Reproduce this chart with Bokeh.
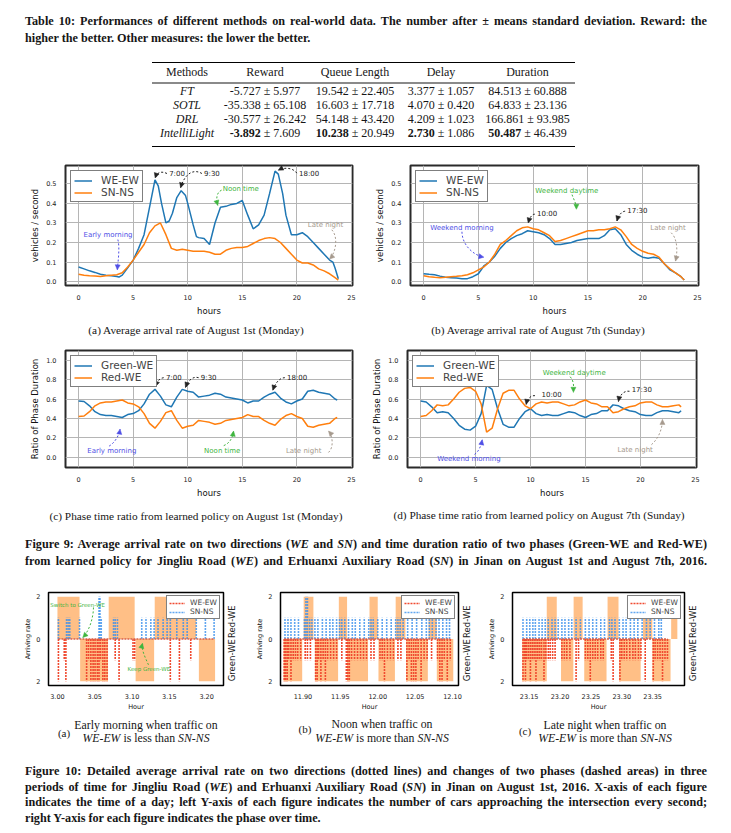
import math
from bokeh.plotting import figure
from bokeh.models import Div, Range1d, FixedTicker, PrintfTickFormatter, LinearAxis, Arrow, NormalHead
from bokeh.layouts import column, row
from bokeh.core.properties import value
from bokeh.embed import file_html
from bokeh.resources import INLINE

# ------------------------------------------------------------------ table data
table_columns = ["Methods", "Reward", "Queue Length", "Delay", "Duration"]
methods = ["FT", "SOTL", "DRL", "IntelliLight"]
reward_mean = [-5.727, -35.338, -30.577, -3.892]
reward_std = [5.977, 65.108, 26.242, 7.609]
queue_mean = [19.542, 16.603, 54.148, 10.238]
queue_std = [22.405, 17.718, 43.420, 20.949]
delay_mean = [3.377, 4.070, 4.209, 2.730]
delay_std = [1.057, 0.420, 1.023, 1.086]
duration_mean = [84.513, 64.833, 166.861, 50.487]
duration_std = [60.888, 23.136, 93.985, 46.439]

# ------------------------------------------------------------------ figure 9 data
hours = [0, 0.5, 1, 1.5, 2, 2.5, 3, 3.5, 4, 4.5, 5, 5.5, 6, 6.5, 7, 7.5, 8, 8.5, 9, 9.5,
         10, 10.5, 11, 11.5, 12, 12.5, 13, 13.5, 14, 14.5, 15, 15.5, 16, 16.5, 17, 17.5,
         18, 18.5, 19, 19.5, 20, 20.5, 21, 21.5, 22, 22.5, 23, 23.5, 23.8]
hours_we_aug1 = [0, 0.5, 1, 1.5, 2, 2.5, 3, 3.5, 3.7, 4, 4.5, 5, 5.5, 6, 6.5, 7, 7.3, 7.6,
                 8, 8.3, 8.6, 9, 9.4, 9.8, 10, 10.5, 10.8, 11, 11.5, 12, 12.5, 13, 13.5, 14,
                 14.5, 15, 15.5, 16, 16.5, 17, 17.5, 18, 18.3, 18.7, 19, 19.5, 20, 20.5, 21,
                 21.5, 22, 22.5, 23, 23.3, 23.5, 23.8]
we_aug1 = [0.075, 0.065, 0.055, 0.047, 0.038, 0.033, 0.030, 0.026, 0.023, 0.033, 0.07, 0.11,
           0.17, 0.24, 0.38, 0.52, 0.49, 0.40, 0.30, 0.31, 0.35, 0.43, 0.465, 0.44, 0.40, 0.29,
           0.23, 0.225, 0.22, 0.19, 0.30, 0.38, 0.385, 0.395, 0.40, 0.415, 0.34, 0.27, 0.29,
           0.34, 0.45, 0.565, 0.55, 0.45, 0.34, 0.24, 0.24, 0.25, 0.23, 0.20, 0.17, 0.14, 0.11,
           0.10, 0.07, 0.015]
sn_aug1 = [0.038, 0.033, 0.030, 0.028, 0.026, 0.030, 0.033, 0.035,
           0.045, 0.075, 0.11, 0.15, 0.19, 0.25, 0.285, 0.30,
           0.24, 0.17, 0.16, 0.165, 0.16, 0.155, 0.155, 0.155,
           0.15, 0.14, 0.14, 0.16, 0.17, 0.175, 0.175, 0.18,
           0.195, 0.21, 0.22, 0.225, 0.22, 0.20, 0.17, 0.14,
           0.11, 0.095, 0.095, 0.085, 0.065, 0.055, 0.04, 0.02, 0.008]
we_aug7 = [0.04, 0.037, 0.035, 0.028, 0.022, 0.02, 0.018, 0.015,
           0.015, 0.025, 0.04, 0.08, 0.10, 0.13, 0.17, 0.20,
           0.22, 0.235, 0.245, 0.26, 0.255, 0.25, 0.24, 0.22,
           0.19, 0.19, 0.195, 0.20, 0.21, 0.215, 0.22, 0.22,
           0.22, 0.235, 0.265, 0.27, 0.24, 0.19, 0.16, 0.14,
           0.125, 0.12, 0.125, 0.12, 0.09, 0.06, 0.045, 0.025, 0.008]
sn_aug7 = [0.03, 0.025, 0.022, 0.02, 0.022, 0.025, 0.027, 0.03,
           0.035, 0.045, 0.06, 0.075, 0.10, 0.14, 0.19, 0.21,
           0.235, 0.26, 0.275, 0.28, 0.27, 0.265, 0.25, 0.235,
           0.205, 0.21, 0.22, 0.23, 0.24, 0.25, 0.26, 0.26,
           0.265, 0.265, 0.27, 0.28, 0.265, 0.23, 0.19, 0.17,
           0.155, 0.145, 0.14, 0.125, 0.09, 0.065, 0.045, 0.025, 0.008]
hours_phase = [0, 0.5, 1, 1.5, 2, 2.5, 3, 3.5, 4, 4.5, 5, 5.5, 6, 6.5, 7, 7.5, 8, 8.5, 9, 9.5,
               10, 10.5, 11, 11.5, 12, 12.5, 13, 13.5, 14, 14.5, 15, 15.5, 16, 16.5, 17, 17.5,
               18, 18.5, 19, 19.5, 20, 20.5, 21, 21.5, 22, 22.5, 23, 23.5, 23.7]
green_aug1 = [0.58, 0.575, 0.53, 0.47, 0.44, 0.43, 0.43, 0.42,
              0.41, 0.44, 0.45, 0.48, 0.55, 0.65, 0.70, 0.63,
              0.54, 0.52, 0.62, 0.70, 0.68, 0.67, 0.62, 0.63,
              0.64, 0.66, 0.65, 0.62, 0.61, 0.60, 0.59, 0.56,
              0.58, 0.58, 0.62, 0.65, 0.67, 0.61, 0.57, 0.55,
              0.58, 0.60, 0.68, 0.69, 0.67, 0.66, 0.65, 0.60, 0.59]
red_aug1 = [0.42, 0.425, 0.47, 0.53, 0.56, 0.57, 0.57, 0.58,
            0.59, 0.56, 0.55, 0.52, 0.45, 0.35, 0.30, 0.37,
            0.46, 0.48, 0.38, 0.30, 0.32, 0.33, 0.38, 0.37,
            0.36, 0.34, 0.35, 0.38, 0.39, 0.40, 0.41, 0.44,
            0.42, 0.42, 0.38, 0.35, 0.33, 0.39, 0.43, 0.45,
            0.42, 0.40, 0.32, 0.31, 0.33, 0.34, 0.35, 0.40, 0.41]
green_aug7 = [0.58, 0.57, 0.52, 0.46, 0.47, 0.46, 0.40, 0.33,
              0.29, 0.28, 0.32, 0.45, 0.74, 0.70, 0.50, 0.34,
              0.31, 0.31, 0.40, 0.47, 0.50, 0.45, 0.43, 0.44,
              0.43, 0.43, 0.45, 0.47, 0.46, 0.43, 0.41, 0.44,
              0.45, 0.48, 0.48, 0.54, 0.53, 0.50, 0.48, 0.47,
              0.44, 0.43, 0.43, 0.46, 0.48, 0.48, 0.47, 0.46, 0.48]
red_aug7 = [0.42, 0.43, 0.48, 0.54, 0.53, 0.54, 0.60, 0.67,
            0.71, 0.72, 0.68, 0.55, 0.26, 0.30, 0.50, 0.66,
            0.69, 0.69, 0.60, 0.53, 0.50, 0.55, 0.57, 0.56,
            0.57, 0.57, 0.55, 0.53, 0.54, 0.57, 0.59, 0.56,
            0.55, 0.52, 0.52, 0.46, 0.47, 0.50, 0.52, 0.53,
            0.56, 0.57, 0.57, 0.54, 0.52, 0.52, 0.53, 0.54, 0.52]
hour_ticks = [0, 5, 10, 15, 20, 25]
rate_ticks = [0.0, 0.1, 0.2, 0.3, 0.4, 0.5]
ratio_ticks = [0.0, 0.2, 0.4, 0.6, 0.8, 1.0]

# ------------------------------------------------------------------ figure 10 data
# (a) early morning
ea_red_t = [3.0013, 3.0091, 3.0113, 3.0391, 3.0417, 3.0448, 3.0478, 3.0504, 3.0535, 3.0557,
            3.0578, 3.0609, 3.0635, 3.0665, 3.0774, 3.0826, 3.1013, 3.1035, 3.1513, 3.1635, 3.1787]
ea_red_n = [2, 1, 2, 2, 1, 2, 2, 2, 2, 2, 1, 2, 2, 2, 1, 2, 1, 1, 2, 2, 1]
ea_blue_t = [3.0013, 3.0122, 3.0143, 3.0165, 3.0296, 3.0557, 3.0570, 3.0587, 3.0752, 3.0774,
             3.0804, 3.1130, 3.1187, 3.1252, 3.1296, 3.1348, 3.1417, 3.1470, 3.1513, 3.1600,
             3.1687, 3.1739, 3.1861, 3.1983, 3.2100]
ea_blue_n = [1, 1, 1, 1, 1, 2, 2, 1, 1, 1, 1, 1, 1, 1, 1, 1, 1, 1, 1, 1, 1, 1, 1, 1, 1]
ea_redphase_start = [3.000, 3.0687, 3.1304]
ea_redphase_end = [3.0296, 3.1035, 3.1860]
ea_greenphase_start = [3.0304, 3.1048, 3.1896]
ea_greenphase_end = [3.0678, 3.1296, 3.2113]
ea_ticks = [3.00, 3.05, 3.10, 3.15, 3.20]
# (b) noon
nb_red_t = [11.875, 11.877, 11.879, 11.881, 11.884, 11.887, 11.890, 11.893, 11.897, 11.903,
            11.906, 11.910, 11.917, 11.919, 11.921, 11.924, 11.927, 11.930, 11.933, 11.937,
            11.941, 11.945, 11.952, 11.958, 11.960, 11.962, 11.965, 11.969, 11.973, 11.977,
            11.981, 11.985, 11.991, 11.995, 12.003, 12.006, 12.009, 12.013, 12.017, 12.021,
            12.027, 12.031, 12.039, 12.042, 12.045, 12.048, 12.051, 12.054, 12.058, 12.062,
            12.066, 12.072, 12.080, 12.083, 12.086, 12.089, 12.093, 12.097]
nb_red_n = [2, 2, 2, 1, 2, 1, 1, 1, 1, 1,
            1, 1, 2, 2, 1, 2, 1, 2, 1, 1,
            1, 1, 1, 2, 2, 2, 1, 1, 1, 1,
            1, 1, 1, 1, 1, 1, 2, 1, 1, 1,
            1, 1, 2, 1, 2, 2, 2, 1, 2, 1,
            1, 1, 1, 2, 2, 1, 2, 1]
nb_blue_t = [11.876, 11.880, 11.884, 11.889, 11.894, 11.902, 11.904, 11.906, 11.909, 11.912,
             11.916, 11.920, 11.926, 11.931, 11.936, 11.940, 11.945, 11.949, 11.952, 11.956,
             11.961, 11.966, 11.970, 11.976, 11.982, 11.988, 11.991, 11.994, 12.000, 12.006,
             12.012, 12.018, 12.024, 12.027, 12.030, 12.034, 12.040, 12.046, 12.052, 12.059,
             12.065, 12.069, 12.073, 12.078, 12.082, 12.087, 12.092, 12.096]
nb_blue_n = [1, 1, 1, 1, 1, 1, 2, 2, 1, 1,
             1, 1, 1, 1, 1, 1, 1, 1, 1, 1,
             1, 1, 1, 1, 1, 1, 1, 1, 1, 1,
             1, 1, 1, 1, 1, 1, 1, 1, 1, 1,
             1, 1, 1, 1, 1, 1, 1, 1]
nb_redphase_start = [11.901, 11.948, 11.989, 12.024, 12.068]
nb_redphase_end = [11.914, 11.959, 12.000, 12.037, 12.079]
nb_greenphase_start = [11.874, 11.916, 11.959, 12.001, 12.038, 12.079]
nb_greenphase_end = [11.899, 11.947, 11.987, 12.023, 12.067, 12.101]
nb_ticks = [11.90, 11.95, 12.00, 12.05, 12.10]
# (c) late night
lc_red_t = [23.140, 23.142, 23.144, 23.146, 23.149, 23.152, 23.155, 23.158, 23.161, 23.164,
            23.167, 23.170, 23.174, 23.177, 23.181, 23.184, 23.188, 23.192, 23.203, 23.207,
            23.211, 23.216, 23.226, 23.230, 23.241, 23.245, 23.249, 23.253, 23.257, 23.261,
            23.266, 23.270, 23.283, 23.286, 23.297, 23.300, 23.304, 23.308, 23.313, 23.318,
            23.322, 23.327, 23.331, 23.338, 23.351, 23.354, 23.358, 23.362, 23.366, 23.370, 23.374]
lc_red_n = [2, 1, 2, 1, 1, 2, 1, 1, 2, 1,
            1, 1, 2, 1, 1, 1, 1, 1, 1, 1,
            1, 1, 2, 1, 1, 1, 2, 1, 1, 1,
            1, 1, 1, 2, 2, 1, 1, 1, 1, 1,
            1, 1, 1, 2, 2, 1, 1, 1, 2, 1, 1]
lc_blue_t = [23.140, 23.146, 23.151, 23.156, 23.160, 23.166, 23.171, 23.176, 23.181, 23.187,
             23.192, 23.197, 23.203, 23.208, 23.214, 23.219, 23.226, 23.233, 23.241, 23.247,
             23.253, 23.259, 23.266, 23.272, 23.280, 23.284, 23.289, 23.296, 23.302, 23.307,
             23.314, 23.320, 23.326, 23.333, 23.340, 23.346, 23.353, 23.360, 23.364]
lc_blue_n = [1] * 39
lc_redphase_start = [23.1785, 23.222, 23.277, 23.3344, 23.380]
lc_redphase_end = [23.1947, 23.2366, 23.2947, 23.3495, 23.390]
lc_greenphase_start = [23.1387, 23.2016, 23.2392, 23.2957, 23.3495]
lc_greenphase_end = [23.1785, 23.2215, 23.2753, 23.3306, 23.379]
lc_ticks = [23.15, 23.20, 23.25, 23.30, 23.35]
phase_labels = ["Red-WE", "Green-WE"]

# ------------------------------------------------------------------ styles
FONT = "DejaVu Sans"
SERIF = "'Liberation Serif', 'Times New Roman', serif"
BLUE = "#1f77b4"
ORANGE = "#ff7f0e"
EV_RED = "#f04a30"
EV_BLUE = "#3a90ec"
C_DARK = "#222222"
C_GREEN = "#3fb53f"
C_PURPLE = "#5050e6"
C_GRAY = "#a69a8e"


def style_axes(p, tick_size, label_size, tick_standoff, label_standoff):
    for ax in p.axis:
        ax.axis_line_color = None
        ax.major_tick_line_color = None
        ax.minor_tick_line_color = None
        ax.major_label_text_font = FONT
        ax.major_label_text_font_size = tick_size
        ax.major_label_text_color = "#222222"
        ax.major_label_standoff = tick_standoff
        ax.axis_label_text_font = FONT
        ax.axis_label_text_font_size = label_size
        ax.axis_label_text_font_style = "normal"
        ax.axis_label_text_color = "#111111"
        ax.axis_label_standoff = label_standoff


def style_legend(p, loc, size, gw, gh, pad, margin, standoff, bw):
    lg = p.legend[0]
    lg.location = loc
    lg.label_text_font = FONT
    lg.label_text_font_size = size
    lg.glyph_width = gw
    lg.glyph_height = gh
    lg.label_height = gh
    lg.spacing = 0
    lg.padding = pad
    lg.margin = margin
    lg.label_standoff = standoff
    lg.border_line_color = "black"
    lg.border_line_width = bw
    lg.background_fill_alpha = 1


def note(p, x, y, s, color, size="7px"):
    p.text(x=[x], y=[y], text=[s], text_color=color, text_font=value(FONT),
           text_font_size=size, text_baseline="middle", text_align="left")


def curve(p, x0, y0, cx0, cy0, cx1, cy1, x1, y1, color):
    p.bezier(x0=[x0], y0=[y0], x1=[x1], y1=[y1], cx0=[cx0], cy0=[cy0], cx1=[cx1], cy1=[cy1],
             line_color=color, line_dash="2 2", line_width=1)
    p.add_layout(Arrow(end=NormalHead(size=5, fill_color=color, line_color=color, line_width=0.5),
                       x_start=cx1, y_start=cy1, x_end=x1, y_end=y1, line_alpha=0))


def top_fig(w, h, bl, br, bt, bb, y_lo, y_hi, yticks, ylabel):
    p = figure(width=w, height=h, x_range=Range1d(-1.2, 25.1), y_range=Range1d(y_lo, y_hi),
               output_backend="svg", toolbar_location=None, min_border_left=bl,
               min_border_right=br, min_border_top=bt, min_border_bottom=bb, margin=0)
    p.outline_line_color = "#2a2a2a"
    p.outline_line_width = 2
    p.xaxis.ticker = FixedTicker(ticks=hour_ticks)
    p.yaxis.ticker = FixedTicker(ticks=yticks)
    p.yaxis.formatter = PrintfTickFormatter(format="%.1f")
    p.xaxis.axis_label = "hours"
    p.yaxis.axis_label = ylabel
    style_axes(p, "6.5px", "8.5px", 3, 3)
    p.grid.grid_line_color = "#b5b5b5"
    p.grid.grid_line_width = 1
    return p


def add_series(p, xs, ys, color, label):
    n = min(len(xs), len(ys))
    p.line(xs[:n], ys[:n], line_color=color, line_width=1.5, legend_label=label)


# (a) arrival rate Aug 1st
fa = top_fig(357, 168, 57, 13, 15, 27, -0.02, 0.594, rate_ticks, "vehicles / second")
add_series(fa, hours_we_aug1, we_aug1, BLUE, "WE-EW")
add_series(fa, hours, sn_aug1, ORANGE, "SN-NS")
style_legend(fa, "top_left", "10.5px", 18, 11, 3, 5, 9, 1.5)
note(fa, 8.3, 0.553, "7:00", C_DARK)
curve(fa, 8.1, 0.553, 7.6, 0.566, 7.2, 0.562, 7.02, 0.53, C_DARK)
note(fa, 11.5, 0.553, "9:30", C_DARK)
curve(fa, 11.3, 0.553, 10.5, 0.58, 9.7, 0.55, 9.35, 0.48, C_DARK)
note(fa, 20.2, 0.553, "18:00", C_DARK)
curve(fa, 20.0, 0.555, 19.6, 0.585, 18.8, 0.585, 18.3, 0.57, C_DARK)
note(fa, 13.2, 0.475, "Noon time", C_GREEN)
curve(fa, 13.1, 0.468, 12.6, 0.455, 12.6, 0.42, 12.75, 0.39, C_GREEN)
note(fa, 0.45, 0.237, "Early morning", C_PURPLE)
curve(fa, 3.6, 0.215, 3.8, 0.17, 3.6, 0.1, 3.55, 0.06, C_PURPLE)
note(fa, 21.0, 0.29, "Late night", C_GRAY)
curve(fa, 23.2, 0.265, 23.8, 0.23, 23.6, 0.15, 23.0, 0.115, C_GRAY)

# (b) arrival rate Aug 7th
fb = top_fig(358, 168, 45, 25, 15, 27, -0.02, 0.594, rate_ticks, "vehicles / second")
add_series(fb, hours, we_aug7, BLUE, "WE-EW")
add_series(fb, hours, sn_aug7, ORANGE, "SN-NS")
style_legend(fb, "top_left", "10.5px", 18, 11, 3, 5, 9, 1.5)
note(fb, 10.35, 0.345, "10:00", C_DARK)
curve(fb, 10.15, 0.345, 9.9, 0.345, 9.7, 0.33, 9.55, 0.30, C_DARK)
note(fb, 18.6, 0.363, "17:30", C_DARK)
curve(fb, 18.4, 0.36, 18.1, 0.36, 17.8, 0.34, 17.65, 0.31, C_DARK)
note(fb, 10.2, 0.464, "Weekend daytime", C_GREEN)
curve(fb, 13.55, 0.445, 13.7, 0.42, 13.95, 0.40, 13.95, 0.37, C_GREEN)
note(fb, 0.6, 0.276, "Weekend morning", C_PURPLE)
curve(fb, 3.5, 0.255, 3.5, 0.19, 4.5, 0.135, 5.5, 0.125, C_PURPLE)
note(fb, 20.7, 0.276, "Late night", C_GRAY)
curve(fb, 22.6, 0.25, 23.2, 0.22, 23.2, 0.15, 23.0, 0.105, C_GRAY)

# (c) phase ratio Aug 1st
fc = top_fig(357, 155, 57, 13, 5, 24, -0.105, 1.1, ratio_ticks, "Ratio of Phase Duration")
add_series(fc, hours_phase, green_aug1, BLUE, "Green-WE")
add_series(fc, hours_phase, red_aug1, ORANGE, "Red-WE")
style_legend(fc, "top_left", "10.5px", 18, 11, 3, 5, 9, 1.5)
note(fc, 8.0, 0.82, "7:00", C_DARK)
curve(fc, 7.8, 0.82, 7.4, 0.815, 7.2, 0.78, 7.05, 0.73, C_DARK)
note(fc, 11.2, 0.82, "9:30", C_DARK)
curve(fc, 11.0, 0.82, 10.4, 0.84, 10.0, 0.78, 9.8, 0.72, C_DARK)
note(fc, 19.1, 0.82, "18:00", C_DARK)
curve(fc, 18.9, 0.82, 18.4, 0.82, 18.0, 0.76, 17.8, 0.69, C_DARK)
note(fc, 0.8, 0.064, "Early morning", C_PURPLE)
curve(fc, 2.8, 0.115, 3.3, 0.15, 3.7, 0.22, 3.8, 0.29, C_PURPLE)
note(fc, 11.5, 0.064, "Noon time", C_GREEN)
curve(fc, 13.3, 0.12, 13.9, 0.15, 14.1, 0.2, 14.2, 0.27, C_GREEN)
note(fc, 19.0, 0.064, "Late night", C_GRAY)
curve(fc, 22.9, 0.05, 23.4, 0.1, 23.3, 0.22, 22.9, 0.27, C_GRAY)

# (d) phase ratio Aug 7th
fd = top_fig(358, 155, 42, 27, 5, 24, -0.105, 1.1, ratio_ticks, "Ratio of Phase Duration")
add_series(fd, hours_phase, green_aug7, BLUE, "Green-WE")
add_series(fd, hours_phase, red_aug7, ORANGE, "Red-WE")
style_legend(fd, "top_left", "10.5px", 18, 11, 3, 5, 9, 1.5)
note(fd, 11.0, 0.645, "10:00", C_DARK)
curve(fd, 10.4, 0.635, 10.0, 0.64, 9.7, 0.6, 9.6, 0.545, C_DARK)
note(fd, 19.2, 0.69, "17:30", C_DARK)
curve(fd, 19.0, 0.68, 18.5, 0.69, 18.1, 0.64, 18.0, 0.575, C_DARK)
note(fd, 11.1, 0.865, "Weekend daytime", C_GREEN)
curve(fd, 13.6, 0.83, 14.0, 0.78, 13.9, 0.72, 13.9, 0.67, C_GREEN)
note(fd, 1.5, -0.02, "Weekend morning", C_PURPLE)
curve(fd, 4.9, 0.03, 5.3, 0.06, 5.5, 0.12, 5.6, 0.18, C_PURPLE)
note(fd, 17.9, 0.08, "Late night", C_GRAY)
curve(fd, 21.0, 0.13, 21.7, 0.2, 22.0, 0.3, 22.0, 0.39, C_GRAY)


# ------------------------------------------------------------------ figure 10 panels
def event_fig(w, h, bl, br, bt, bb, x_lo, x_hi, xticks):
    p = figure(width=w, height=h, x_range=Range1d(x_lo, x_hi), y_range=Range1d(-2.2, 2.2),
               output_backend="svg", toolbar_location=None, min_border_left=bl,
               min_border_right=br, min_border_top=bt, min_border_bottom=bb, margin=0)
    p.outline_line_color = "black"
    p.outline_line_width = 1.5
    p.grid.grid_line_color = None
    p.xaxis.ticker = FixedTicker(ticks=xticks)
    p.xaxis.formatter = PrintfTickFormatter(format="%.2f")
    p.yaxis.ticker = FixedTicker(ticks=[-2, 0, 2])
    p.yaxis.major_label_overrides = {-2: "2", 0: "0", 2: "2"}
    p.xaxis.axis_label = "Hour"
    p.yaxis.axis_label = "Arriving rate"
    # rotated labels are anchored at their start, so the ticks sit at the bottom of each label
    right = LinearAxis(ticker=FixedTicker(ticks=[0.05, -2.0]),
                       major_label_overrides={0.05: phase_labels[0], -2.0: phase_labels[1]},
                       major_label_orientation=math.pi / 2)
    p.add_layout(right, "right")
    style_axes(p, "6.5px", "6.5px", 2, 1)
    right.major_label_text_font_size = "8.5px"
    right.major_label_standoff = 3
    return p


def draw_events(p, red_t, red_n, blue_t, blue_n, rs, re_, gs, ge):
    p.quad(left=rs, right=re_, bottom=0, top=2, fill_color=ORANGE, fill_alpha=0.5, line_color=None)
    p.quad(left=gs, right=ge, bottom=-2, top=0, fill_color=ORANGE, fill_alpha=0.5, line_color=None)
    p.segment(x0=red_t, y0=[0] * len(red_t), x1=red_t, y1=[-n for n in red_n],
              line_color=EV_RED, line_dash="2 1", line_width=1.6, legend_label="WE-EW")
    p.segment(x0=blue_t, y0=[0] * len(blue_t), x1=blue_t, y1=blue_n,
              line_color=EV_BLUE, line_alpha=0.8, line_dash="2 1", line_width=1.6,
              legend_label="SN-NS")
    lo = min(red_t + blue_t)
    hi = max(red_t + blue_t)
    p.segment(x0=[lo], y0=[0], x1=[hi], y1=[0], line_color="#d8604a", line_dash="2 1",
              line_width=1.3)
    style_legend(p, "top_right", "7.5px", 16, 8, 2, 3, 5, 1.2)


ga = event_fig(237, 138, 40, 17, 15, 19, 2.988, 3.2226, ea_ticks)
draw_events(ga, ea_red_t, ea_red_n, ea_blue_t, ea_blue_n, ea_redphase_start, ea_redphase_end,
            ea_greenphase_start, ea_greenphase_end)
note(ga, 2.9905, 1.63, "Switch to Green-WE", C_GREEN, "5.5px")
curve(ga, 3.0483, 1.49, 3.048, 1.0, 3.043, 0.4, 3.034, 0.07, C_GREEN)
note(ga, 3.094, -1.42, "Keep Green-WE", C_GREEN, "5.5px")
curve(ga, 3.122, -1.22, 3.118, -0.9, 3.112, -0.5, 3.114, -0.2, C_GREEN)

gb = event_fig(240, 138, 35, 27, 15, 19, 11.87, 12.108, nb_ticks)
draw_events(gb, nb_red_t, nb_red_n, nb_blue_t, nb_blue_n, nb_redphase_start, nb_redphase_end,
            nb_greenphase_start, nb_greenphase_end)

gc = event_fig(238, 138, 26, 39, 17, 19, 23.123, 23.4016, lc_ticks)
draw_events(gc, lc_red_t, lc_red_n, lc_blue_t, lc_blue_n, lc_redphase_start, lc_redphase_end,
            lc_greenphase_start, lc_greenphase_end)


# ------------------------------------------------------------------ text blocks
def box(h, inner):
    return (f'<div style="position:relative;width:715px;height:{h}px;color:#161616;'
            f'font-family:{SERIF};">{inner}</div>')


def at_center(x, y, html, size, weight="normal"):
    return (f'<div style="position:absolute;left:{x}px;top:{y}px;transform:translate(-50%,-50%);'
            f'white-space:nowrap;font-size:{size}px;font-weight:{weight};line-height:1.1;">{html}</div>')


def cap_line(y, html, size, justify=True, x=17, w=682):
    al = "justify" if justify else "left"
    return (f'<div style="position:absolute;left:{x}px;top:{y}px;width:{w}px;transform:translateY(-50%);'
            f'text-align:{al};text-align-last:{al};font-size:{size}px;font-weight:bold;'
            f'line-height:1.1;">{html}</div>')


CS = 12.2
tcap = Div(width=715, height=40, margin=0, text=box(40,
    cap_line(14, "Table 10: Performances of different methods on real-world data. The number after &plusmn; "
                 "means standard deviation. Reward: the", CS) +
    cap_line(31, "higher the better. Other measures: the lower the better.", CS, justify=False)))

col_w = [70, 86, 94, 78, 95]
hdr = "".join(f'<td style="width:{w}px;padding:0;text-align:center;">{c}</td>'
              for w, c in zip(col_w, table_columns))
body = ""
stats = [(reward_mean, reward_std), (queue_mean, queue_std), (delay_mean, delay_std),
         (duration_mean, duration_std)]
for i, m in enumerate(methods):
    best = (m == "IntelliLight")
    pad_b = "6px" if i == len(methods) - 1 else "0"
    cells = [f"<i>{m}</i>"]
    for mean, std in stats:
        mv = f"{mean[i]:.3f}"
        if best:
            mv = f"<b>{mv}</b>"
        cells.append(f"{mv} &plusmn; {std[i]:.3f}")
    body += '<tr style="height:14px;">' + "".join(
        f'<td style="padding:0 0 {pad_b} 0;text-align:center;line-height:14px;white-space:nowrap;">{c}</td>'
        for c in cells) + "</tr>"
table_html = (f'<table style="position:absolute;left:144px;top:14px;width:423px;border-collapse:collapse;'
              f'font-size:12px;border-top:1.3px solid #000;border-bottom:1.3px solid #000;">'
              f'<tr style="height:20px;border-bottom:2px solid #8a8a8a;">{hdr}</tr>{body}</table>')
tdiv = Div(width=715, height=102, margin=0, text=box(102, table_html))

SUB = 11.3
cap1 = Div(width=715, height=27, margin=0, text=box(27,
    at_center(188, 12, "(a) Average arrival rate of August 1st (Monday)", SUB) +
    at_center(530, 12, "(b) Average arrival rate of August 7th (Sunday)", SUB)))
cap2 = Div(width=715, height=30, margin=0, text=box(30,
    at_center(188, 16, "(c) Phase time ratio from learned policy on August 1st (Monday)", SUB) +
    at_center(531, 15, "(d) Phase time ratio from learned policy on August 7th (Sunday)", SUB)))
f9 = Div(width=715, height=45, margin=0, text=box(45,
    cap_line(15, "Figure 9: Average arrival rate on two directions (<i>WE</i> and <i>SN</i>) and time "
                 "duration ratio of two phases (Green-WE and Red-WE)", CS) +
    cap_line(32, "from learned policy for Jingliu Road (<i>WE</i>) and Erhuanxi Auxiliary Road (<i>SN</i>) "
                 "in Jinan on August 1st and August 7th, 2016.", CS)))
SB = 11.8
cap3 = Div(width=715, height=39, margin=0, text=box(39,
    at_center(56, 20, "(a)", 11) +
    at_center(138, 12, "Early morning when traffic on", SB) +
    at_center(138, 25, "<i>WE-EW</i> is less than <i>SN-NS</i>", SB) +
    at_center(297, 16, "(b)", 11) +
    at_center(374, 11, "Noon when traffic on", SB) +
    at_center(374, 25, "<i>WE-EW</i> is more than <i>SN-NS</i>", SB) +
    at_center(517, 18, "(c)", 11) +
    at_center(597, 12, "Late night when traffic on", SB) +
    at_center(597, 25, "<i>WE-EW</i> is more than <i>SN-NS</i>", SB)))
f10 = Div(width=715, height=72, margin=0, text=box(72,
    cap_line(20, "Figure 10: Detailed average arrival rate on two directions (dotted lines) and changes of "
                 "two phases (dashed areas) in three", CS) +
    cap_line(35.5, "periods of time for Jingliu Road (<i>WE</i>) and Erhuanxi Auxiliary Road (<i>SN</i>) in "
                   "Jinan on August 1st, 2016. X-axis of each figure", CS) +
    cap_line(51, "indicates the time of a day; left Y-axis of each figure indicates the number of cars "
                 "approaching the intersection every second;", CS) +
    cap_line(66.5, "right Y-axis for each figure indicates the phase over time.", CS, justify=False)))

layout = column(
    tcap, tdiv,
    row(fa, fb, spacing=0), cap1,
    row(fc, fd, spacing=0), cap2,
    f9,
    row(ga, gb, gc, spacing=0), cap3,
    f10,
    spacing=0, margin=(8, 8, 0, 8))

open("out.html", "w").write(file_html(layout, INLINE, title="IntelliLight real-world results"))
